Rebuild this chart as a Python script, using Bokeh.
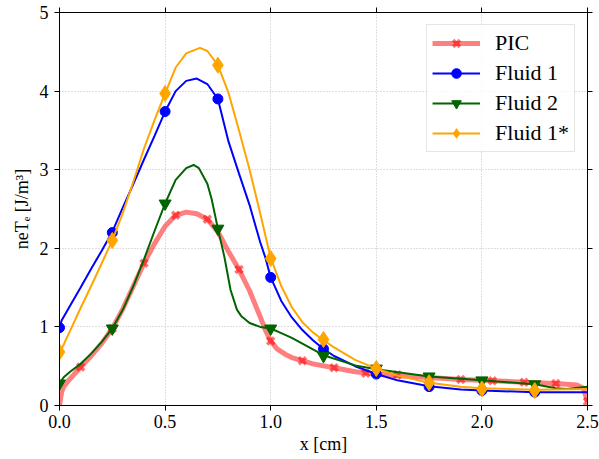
import numpy as np
from bokeh.plotting import figure
from bokeh.models import (Range1d, FixedTicker, LinearAxis, Legend, LegendItem,
                          CustomLabelingPolicy)
from bokeh.embed import file_html
from bokeh.resources import INLINE

# ---- data ----
# PIC (dense curve)
pic_x = [0.0, 0.01, 0.02, 0.04, 0.07, 0.10, 0.15, 0.20, 0.25, 0.30, 0.35, 0.40, 0.45,
         0.50, 0.55, 0.60, 0.65, 0.70, 0.75, 0.80, 0.85, 0.90, 0.95, 0.975, 1.00, 1.03,
         1.07, 1.10, 1.15, 1.20, 1.30, 1.40, 1.50, 1.60, 1.75, 1.90, 2.05, 2.20, 2.35,
         2.45, 2.48, 2.50]
pic_y = [0.0, 0.17, 0.24, 0.31, 0.40, 0.49, 0.63, 0.79, 0.98, 1.23, 1.52, 1.81, 2.06,
         2.28, 2.42, 2.46, 2.44, 2.37, 2.21, 1.96, 1.73, 1.46, 1.13, 0.96, 0.82, 0.72,
         0.65, 0.61, 0.57, 0.53, 0.48, 0.43, 0.40, 0.38, 0.355, 0.33, 0.315, 0.295, 0.28,
         0.26, 0.22, 0.05]
pic_mx = [0.10, 0.25, 0.40, 0.55, 0.70, 0.85, 1.00, 1.15, 1.30, 1.45, 1.60, 1.75, 1.90,
          2.05, 2.20, 2.35, 2.50]
pic_my = [0.49, 0.98, 1.81, 2.42, 2.37, 1.73, 0.82, 0.57, 0.48, 0.41, 0.39, 0.355, 0.33,
          0.315, 0.295, 0.28, 0.05]

# Fluid 1 (blue)
f1_x = [0.0, 0.01, 0.05, 0.10, 0.15, 0.20, 0.25, 0.30, 0.35, 0.40, 0.45, 0.50, 0.55,
        0.60, 0.65, 0.70, 0.75, 0.80, 0.85, 0.90, 0.95, 0.975, 1.00, 1.05, 1.10, 1.15,
        1.20, 1.25, 1.30, 1.40, 1.50, 1.60, 1.75, 1.90, 2.00, 2.25, 2.50]
f1_y = [1.00, 1.08, 1.27, 1.50, 1.74, 1.97, 2.21, 2.52, 2.82, 3.13, 3.43, 3.74, 4.00,
        4.13, 4.16, 4.09, 3.90, 3.36, 2.95, 2.55, 2.08, 1.88, 1.63, 1.33, 1.12, 0.96,
        0.83, 0.72, 0.63, 0.50, 0.40, 0.32, 0.245, 0.205, 0.19, 0.17, 0.17]
f1_mx = [0.0, 0.25, 0.5, 0.75, 1.0, 1.25, 1.5, 1.75, 2.0, 2.25]
f1_my = [0.99, 2.20, 3.74, 3.90, 1.63, 0.72, 0.40, 0.24, 0.19, 0.17]

# Fluid 2 (dark green)
f2_x = [0.0, 0.02, 0.05, 0.10, 0.15, 0.20, 0.25, 0.30, 0.35, 0.40, 0.45, 0.50, 0.55,
        0.60, 0.635, 0.66, 0.70, 0.72, 0.75, 0.78, 0.81, 0.84, 0.86, 0.90, 0.95, 1.00,
        1.05, 1.10, 1.25, 1.40, 1.50, 1.75, 2.00, 2.25, 2.35, 2.40, 2.50]
f2_y = [0.28, 0.36, 0.43, 0.53, 0.66, 0.81, 0.98, 1.22, 1.52, 1.86, 2.22, 2.57, 2.87,
        3.02, 3.06, 3.02, 2.82, 2.63, 2.25, 1.90, 1.47, 1.22, 1.14, 1.05, 1.00, 0.98,
        0.92, 0.86, 0.64, 0.51, 0.46, 0.37, 0.32, 0.27, 0.22, 0.21, 0.24]
f2_mx = [0.0, 0.25, 0.5, 0.75, 1.0, 1.25, 1.5, 1.75, 2.0, 2.25]
f2_my = [0.28, 0.98, 2.57, 2.25, 0.98, 0.63, 0.47, 0.37, 0.32, 0.27]

# Fluid 1* (orange)
f3_x = [0.0, 0.05, 0.10, 0.15, 0.20, 0.25, 0.30, 0.35, 0.40, 0.45, 0.50, 0.55, 0.60,
        0.665, 0.70, 0.75, 0.80, 0.85, 0.90, 0.95, 0.975, 1.00, 1.05, 1.10, 1.15, 1.20,
        1.25, 1.30, 1.40, 1.50, 1.60, 1.75, 1.90, 2.00, 2.25, 2.50]
f3_y = [0.66, 0.95, 1.24, 1.52, 1.81, 2.10, 2.45, 2.85, 3.27, 3.63, 3.97, 4.30, 4.48,
        4.55, 4.51, 4.33, 3.98, 3.50, 3.00, 2.45, 2.16, 1.88, 1.52, 1.25, 1.06, 0.93,
        0.83, 0.74, 0.58, 0.47, 0.38, 0.29, 0.24, 0.22, 0.20, 0.21]
f3_mx = [0.0, 0.25, 0.5, 0.75, 1.0, 1.25, 1.5, 1.75, 2.0, 2.25]
f3_my = [0.68, 2.10, 3.97, 4.33, 1.87, 0.84, 0.47, 0.29, 0.21, 0.19]

series_names = ["PIC", "Fluid 1", "Fluid 2", "Fluid 1*"]

x_ticks = [0.0, 0.5, 1.0, 1.5, 2.0, 2.5]
x_tick_labels = ["0.0", "0.5", "1.0", "1.5", "2.0", "2.5"]
y_ticks = [0, 1, 2, 3, 4, 5]
y_tick_labels = ["0", "1", "2", "3", "4", "5"]

x_label = "x [cm]"
y_label = "neTₑ [J/m³]"

FONT = "Liberation Serif"

p = figure(width=599, height=459, output_backend="svg", toolbar_location=None,
           x_range=Range1d(0, 2.5), y_range=Range1d(0, 5),
           min_border_left=59, min_border_right=12, min_border_top=12,
           min_border_bottom=54)
p.outline_line_color = "black"
p.outline_line_width = 1

def style_axis(ax, ticks, labels, show_labels=True):
    ax.ticker = FixedTicker(ticks=ticks)
    ax.major_label_overrides = {t: l for t, l in zip(ticks, labels)}
    ax.major_tick_in = 0
    ax.major_tick_out = 5
    ax.minor_tick_in = 0
    ax.minor_tick_out = 0
    ax.axis_line_color = "black"
    ax.major_tick_line_color = "black"
    ax.major_label_text_font = FONT
    ax.major_label_text_color = "black"
    ax.axis_label_text_font = FONT
    ax.axis_label_text_font_style = "normal"
    ax.axis_label_text_color = "black"
    if show_labels:
        ax.major_label_text_font_size = "18px"
        ax.axis_label_text_font_size = "18px"
    else:
        # tick marks only: hide every tick label
        ax.major_label_policy = CustomLabelingPolicy(
            code="for (const i of indices) indices.unset(i)")
        ax.major_label_text_font_size = "1px"
        ax.major_label_standoff = 0

style_axis(p.xaxis[0], x_ticks, x_tick_labels)
style_axis(p.yaxis[0], y_ticks, y_tick_labels)
p.xaxis[0].major_label_standoff = 4
p.yaxis[0].major_label_standoff = 6
p.xaxis[0].axis_label = x_label
p.yaxis[0].axis_label = y_label
p.xaxis[0].axis_label_standoff = 3
p.yaxis[0].axis_label_standoff = 5

top = LinearAxis()
right = LinearAxis()
style_axis(top, x_ticks, x_tick_labels, show_labels=False)
style_axis(right, y_ticks, y_tick_labels, show_labels=False)
p.add_layout(top, "above")
p.add_layout(right, "right")

for g in (p.xgrid[0], p.ygrid[0]):
    g.grid_line_color = "#b0b0b0"
    g.grid_line_dash = "1 2"
    g.grid_line_width = 1
    g.grid_line_alpha = 0.8
p.xgrid[0].ticker = FixedTicker(ticks=x_ticks)
p.ygrid[0].ticker = FixedTicker(ticks=y_ticks)

# PIC
r0l = p.line(pic_x, pic_y, line_color="red", line_alpha=0.5, line_width=5)
r0m = p.scatter(pic_mx, pic_my, marker="x", size=10,
                line_color="red", line_alpha=0.55, line_width=3.5)
# Fluid 1
r1l = p.line(f1_x, f1_y, line_color="blue", line_width=2)
r1m = p.scatter(f1_mx, f1_my, marker="circle", size=10, fill_color="blue", line_color="blue")
# Fluid 2
r2l = p.line(f2_x, f2_y, line_color="darkgreen", line_width=2)
r2m = p.scatter(f2_mx, f2_my, marker="inverted_triangle", size=12,
                fill_color="darkgreen", line_color="darkgreen")
# Fluid 1*
r3l = p.line(f3_x, f3_y, line_color="orange", line_width=2)
r3m = p.scatter(f3_mx, f3_my, marker="diamond", size=16, fill_color="orange", line_color="orange")

legend = Legend(items=[
    LegendItem(label=series_names[0], renderers=[r0l, r0m]),
    LegendItem(label=series_names[1], renderers=[r1l, r1m]),
    LegendItem(label=series_names[2], renderers=[r2l, r2m]),
    LegendItem(label=series_names[3], renderers=[r3l, r3m]),
], location="top_right")
legend.label_text_font = FONT
legend.label_text_font_size = "22px"
legend.label_text_color = "black"
legend.glyph_width = 48
legend.glyph_height = 24
legend.label_height = 24
legend.label_standoff = 15
legend.spacing = 4
legend.padding = 5
legend.margin = 12
legend.border_line_color = "#cccccc"
legend.border_line_width = 1
legend.background_fill_alpha = 0.8
p.add_layout(legend, "center")

open("out.html", "w").write(file_html(p, INLINE))
